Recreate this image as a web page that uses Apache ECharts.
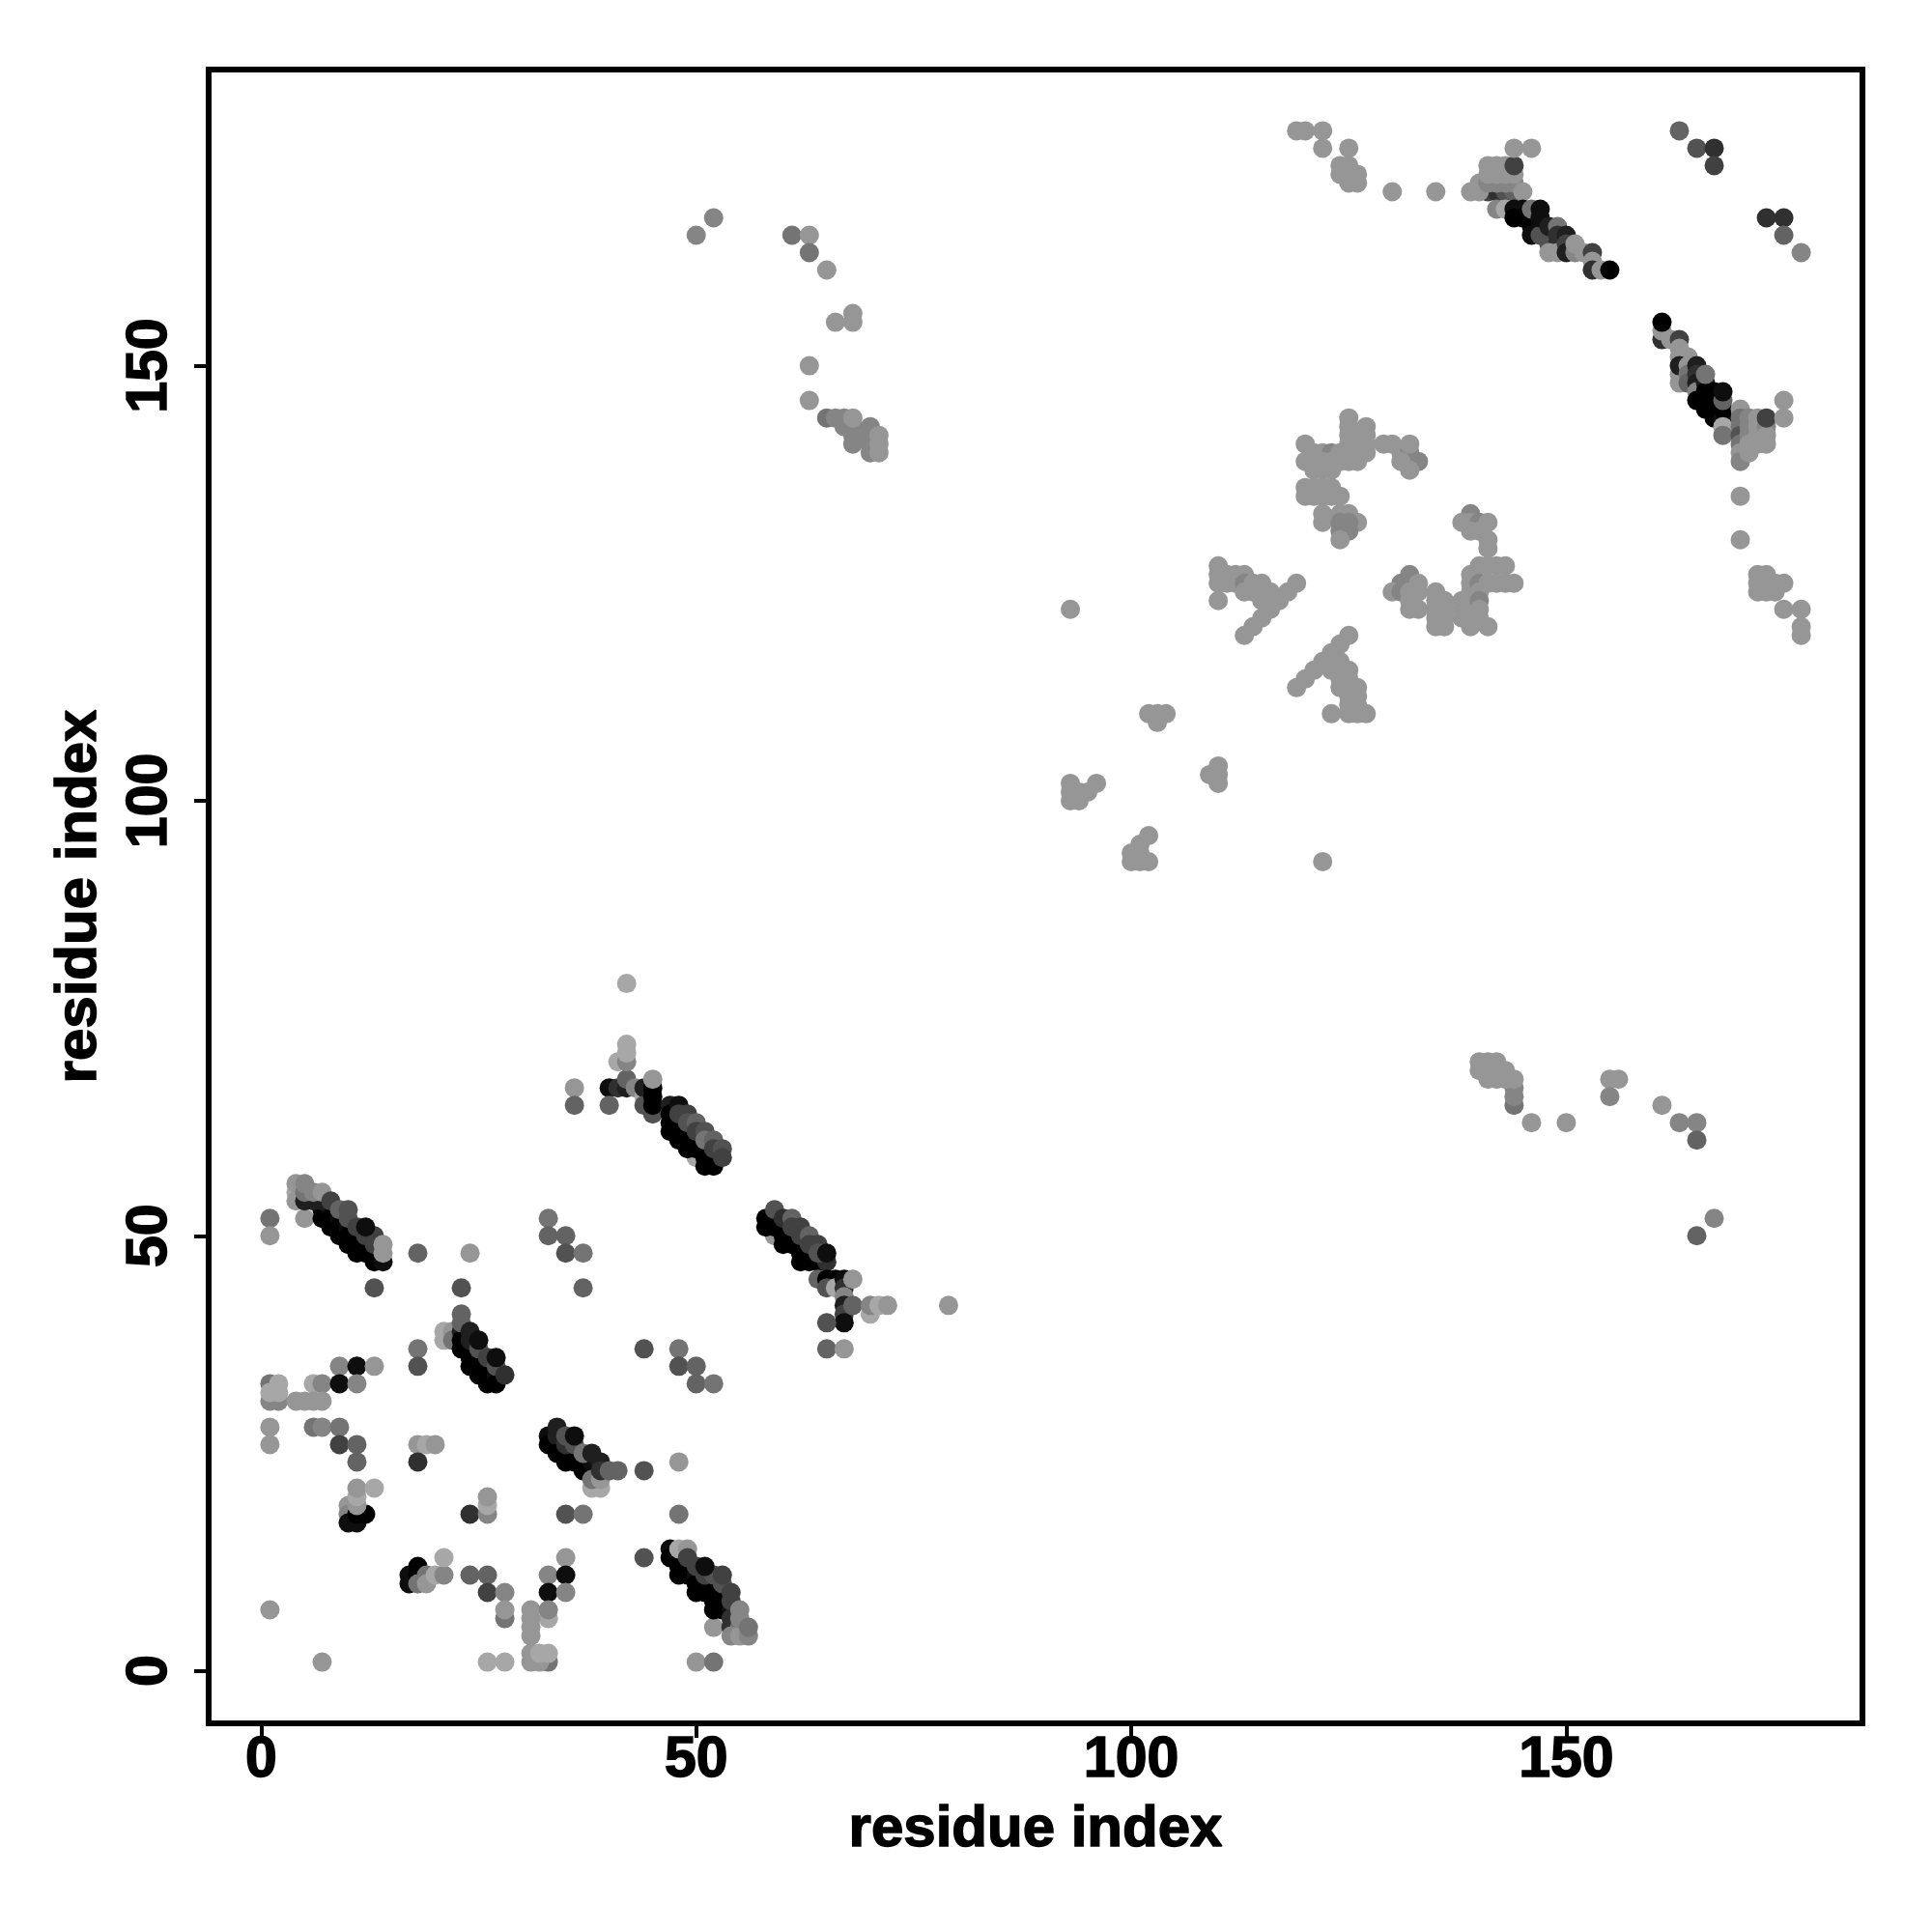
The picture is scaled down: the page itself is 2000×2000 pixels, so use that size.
<!DOCTYPE html>
<html><head><meta charset="utf-8">
<script src="https://cdn.jsdelivr.net/npm/echarts@6/dist/echarts.min.js"></script>
<style>html,body{margin:0;padding:0;background:#fff}#c{width:2000px;height:2000px}</style>
</head><body><div id="c"></div>
<script>
// each point: [residue i, residue j, strength]  (strength -1 = weakest ... 9 = strongest)
const axisTicks = [0, 50, 100, 150];
const axisName = 'residue index';
const clusterCornerLow = [[1,52,2],[1,50,0],[5,52,0],[18,48,3],[24,48,0],[13,44,4],[23,44,4],[18,37,2],[18,35,4],[9,35,1],[11,35,8],[13,35,0],
[1,33,2],[6,33,-1],[7,33,1],[9,33,8],[11,33,1],[1,31,1],[2,31,1],[1,32,-1],[2,32,-1],[2,33,-1],[4,31,0],[5,31,0],[6,31,0],[7,31,0],
[1,28,0],[6,28,2],[7,28,1],[9,28,2],[1,26,0],[9,26,5],[11,26,3],[18,26,0],[19,26,-1],[20,26,0],[11,24,3],[18,24,6],
[1,7,0],[7,1,0],[26,1,-1],[28,1,-1],[24,18,6],[26,18,1],[26,19,-1],[26,20,0],
[24,11,3],[26,11,3],[26,9,5],[28,9,1],[28,6,2],[28,7,0],[33,52,2],[33,50,3],[35,50,3],[35,48,4],[37,48,2],[37,44,3],
[44,37,4],[48,37,2],[48,35,4],[50,35,3],[50,33,3],[52,33,2],[44,23,4],[48,24,0],[35,18,4],[37,18,2],[48,18,2],[44,13,4],
[35,13,0],[33,11,1],[35,11,8],[33,9,8],[35,9,1],[31,7,0],[33,6,-1],[33,7,1],[31,6,0],[31,5,0],[31,4,0],[33,1,2],[31,1,0],[32,1,0],[31,2,0],[32,2,-1],[33,2,-1],
[52,5,0],[50,1,0],[52,1,2]];
const helixA = [[7,53,9],[7,52,9],[8,53,8],[8,52,9],[8,51,9],[9,52,8],[9,51,9],[9,50,9],[10,51,8],[10,50,9],[10,49,9],[11,50,9],[11,49,9],[11,48,9],[12,49,9],[12,48,9],[13,48,9],[13,47,9],[14,47,8],
[4,55,-1],[4,54,0],[4,56,0],[5,54,7],[6,54,7],[5,55,2],[5,56,1],[7,54,7],[6,55,1],[7,55,0],[8,54,5],[9,53,3],[10,53,4],[10,52,4],[11,51,5],[12,50,5],[13,50,5],[13,49,5],[12,51,8],[14,49,0],[14,48,0]];
const helixB = [[21,39,-1],[21,38,-1],[22,39,0],[22,38,2],[23,39,7],[23,38,9],[23,37,9],[24,37,9],[24,36,9],[24,35,9],[25,36,9],[25,35,9],[25,34,9],[26,35,9],[26,34,9],[26,33,9],[27,34,8],[27,33,9],
[23,41,3],[23,40,3],[24,39,7],[24,38,7],[25,37,4],[25,38,8],[26,36,5],[27,35,4],[27,36,8],[28,34,6]];
const helixC = [[33,27,8],[33,26,9],[34,26,9],[34,27,7],[34,25,9],[35,25,9],[35,24,9],[36,24,9],[36,25,9],[37,24,9],[37,23,9],[38,23,9],[38,24,8],[38,21,-1],[39,21,-1],[38,22,2],[39,22,0],
[34,28,7],[35,26,6],[35,27,4],[36,26,4],[36,27,8],[37,25,2],[38,25,7],[39,24,7],[39,23,6],[40,23,3],[41,23,3]];
const clusterD = [[17,11,8],[17,10,8],[18,12,9],[18,11,9],[18,10,2],[19,11,2],[19,10,0],[20,11,-1],[21,11,1],[21,13,-1],
[10,19,0],[10,18,1],[10,17,8],[11,17,8],[11,18,9],[12,18,9],[11,19,0],[11,20,-1],[11,21,0],[13,21,-1]];
const helixE = [[47,14,8],[47,13,9],[48,13,9],[48,12,9],[48,11,9],[49,12,9],[49,11,9],[50,11,8],[50,10,9],[50,9,9],[51,10,9],[51,9,9],[52,9,9],[52,8,9],[52,7,9],[53,8,9],[53,7,9],[54,7,8],
[48,14,-1],[49,14,0],[49,13,5],[50,12,5],[51,11,5],[52,11,4],[53,10,4],[53,11,5],[51,12,8],[54,9,5],[54,8,5],[54,6,6],[54,5,6],[55,5,2],[54,4,1],[55,4,0],[56,4,1],[55,6,1],[55,7,1],[56,5,2]];
const helixF = [[40,67,8],[41,67,6],[42,67,7],[40,65,3],[36,67,0],[36,65,3],[42,68,3],[41,70,-1],[42,70,1],[42,71,-1],[42,72,-1],[42,79,-1],[43,67,1],[44,66,-1],[44,67,7],[44,65,4],
[45,64,4],[45,67,9],[45,66,9],[45,65,9],[45,68,0],[50,59,-1],
[47,65,7],[47,64,9],[47,63,9],[47,62,9],[48,63,9],[48,62,9],[48,61,9],[49,62,9],[49,61,9],[49,60,9],[50,61,9],[50,60,9],[51,60,9],[51,59,9],[51,58,9],[52,59,9],[52,58,9],
[48,65,8],[48,64,5],[49,64,5],[49,63,4],[50,63,3],[50,62,5],[51,62,4],[51,61,2],[52,61,3],[52,60,5],[53,60,4],[53,59,5]];
const helixG = [[59,50,0],[58,52,9],[58,51,9],[59,52,9],[59,51,9],[60,51,9],[60,50,9],[60,49,9],[61,50,9],[61,49,9],[62,49,9],[62,48,9],[62,47,9],[63,48,9],[63,47,9],[64,47,9],[65,47,6],
[59,53,4],[60,52,6],[61,52,3],[61,51,5],[62,51,5],[62,50,5],[63,50,3],[63,49,5],[64,49,5],[64,48,4],[65,48,8]];
const helixH = [[64,45,3],[65,45,9],[66,45,9],[65,44,4],[66,44,-1],[67,45,8],[67,44,6],[67,43,1],[67,42,7],[67,41,5],[67,40,8],[68,45,0],[68,42,3],[70,41,-1],[70,42,1],[71,42,-1],[72,42,0],[79,42,0],[65,40,4],[65,37,3],[67,37,0]];
const topLeft = [[50,165,1],[52,167,1],[61,165,2],[63,165,0],[63,163,2],[65,161,0],[68,156,0],[68,155,0],[66,155,0],[63,150,0],[63,146,0],
[65,144,2],[66,144,1],[67,144,1],[67,143,1],[68,143,1],[68,142,1],[68,141,1],[68,144,0],[70,143,1],[70,142,1],[70,141,1],[70,140,1],[71,142,0],[71,141,0],[71,140,0]];
const topRightA = [[119,177,0],[120,177,0],[122,177,0],[122,175,0],[125,175,0],[124,173,0],[125,173,0],[124,172,0],[125,172,0],[126,172,0],[125,171,0],[126,171,0],[130,170,0],[135,170,0],
[141,170,5],[142,170,6],[143,170,4],[144,170,3],[139,170,0],[140,170,0],[140,171,0],[141,171,1],[142,171,1],[143,171,1],[144,171,1],[141,172,0],[142,172,0],[143,172,0],[144,172,0],[141,173,0],[142,173,0],[143,173,0],[144,173,5],[144,175,0],[146,175,0],[145,170,0]];
const helixI = [[142,168,1],[143,168,-1],[144,168,8],[145,168,8],[144,167,9],[145,167,9],[146,167,9],[146,166,9],[146,165,8],[147,166,8],[147,165,4],[148,165,4],[148,164,4],[146,168,2],[147,168,8],[147,167,8],
[148,166,7],[149,166,2],[149,165,6],[149,164,6],[150,165,7],[148,163,0],[149,163,0],[150,164,5],[150,163,7],[151,163,1],[151,164,0],[152,163,0],[153,163,5],[153,162,0],[153,161,6],[154,161,0],[155,161,9]];
const helixJ = [[161,153,6],[161,154,0],[161,155,9],[162,153,0],[163,153,5],[163,152,0],[163,151,0],[164,151,0],[163,148,0],[163,149,0],[163,150,7],[164,150,0],[164,149,2],[164,148,3],
[165,150,7],[165,149,6],[165,148,7],[165,147,1],[165,146,9],[166,148,7],[166,147,9],[166,146,9],[166,149,2],[166,145,9],[167,147,9],[167,146,9],[167,145,9],[167,144,9],[168,144,8],[168,145,9],[168,146,3],[168,147,8],[168,143,-1],[168,142,2]];
const clusterK = [[170,145,0],[170,144,2],[170,143,2],[170,142,4],[170,141,2],[170,140,0],[170,139,1],[171,144,1],[171,143,1],[171,142,1],[171,141,0],[171,140,0],[172,144,0],[172,143,0],[172,142,0],[172,141,0],[173,143,1],[173,142,0],[173,141,0],[173,144,5],[175,146,0],[175,144,0],[170,135,0],[170,130,0],
[172,126,0],[173,126,0],[172,125,0],[173,125,0],[172,124,0],[173,124,0],[174,124,0],[174,125,0],[175,125,0],[175,122,0],[177,122,0],[177,120,0],[177,119,0],
[163,177,3],[165,175,4],[167,175,6],[167,173,5],[173,167,6],[175,167,6],[175,165,3],[177,163,1]];
const lowerRight = [[161,65,0],[163,63,1],[165,63,1],[165,61,3],[165,50,3],[167,52,1],[155,68,0],[156,68,0],[155,66,1],[146,63,0],[150,63,0],
[144,65,2],[144,66,1],[144,67,1],[140,70,0],[141,70,0],[142,70,0],[140,69,0],[141,69,0],[142,69,0],[143,69,0],[141,68,0],[142,68,0],[143,68,0],[144,68,0]];
const midA = [[125,144,0],[125,143,0],[125,142,0],[125,141,0],[125,140,0],[127,143,0],[127,142,0],[127,141,0],[127,140,0],[126,139,0],[125,139,0],[120,141,0],[120,139,0],[121,140,0],[122,140,0],[123,140,1],[121,139,0],[122,139,0],[123,139,0],[124,140,0],[124,139,0],[121,138,0],[122,138,0],[123,138,0],
[129,141,0],[130,141,0],[131,140,0],[132,140,1],[133,139,1],[132,139,1],[132,141,0],[132,138,0],[131,139,0],[120,136,0],[121,136,0],[122,136,0],[123,136,0],[120,135,0],[121,135,0],[122,135,0],[123,135,0],[124,135,0],
[122,133,0],[122,132,0],[124,133,0],[125,133,0],[126,132,0],[124,132,1],[125,132,1],[124,131,1],[125,131,1],[124,130,0]];
const midB = [[110,127,0],[110,126,0],[110,125,0],[110,123,0],[111,126,0],[111,125,0],[112,126,0],[113,126,0],[112,125,0],[113,125,1],[113,124,0],[114,125,0],[115,125,0],[114,124,0],[115,124,0],[116,124,0],[115,123,0],[116,123,0],[117,123,0],
[119,125,0],[118,124,0],[116,122,0],[115,121,0],[114,120,0],[113,119,0]];
const midC = [[132,126,1],[131,125,1],[133,125,0],[130,124,0],[131,124,1],[132,124,0],[133,124,0],[132,123,0],[132,122,0],[133,122,0],
[135,124,0],[135,123,0],[135,122,0],[135,121,0],[135,120,0],[136,123,0],[136,122,0],[136,121,0],[136,120,0],[138,123,0],[138,122,0],[138,121,0],[139,126,0],[139,125,0],[139,124,0],[139,123,0],[139,122,0],[139,121,0],[139,120,0],[140,127,0],[140,125,1],[140,124,0],[140,123,1],[140,122,0],[140,121,0],[141,120,0],[141,127,0],[142,127,0],[143,127,0],[141,125,0],[142,125,0],[143,125,0],[144,125,0],
[139,133,1],[138,132,0],[139,132,0],[140,132,1],[141,132,0],[139,131,0],[140,131,0],[141,130,0],[141,129,0]];
const midD = [[125,119,0],[124,118,0],[123,117,0],[122,116,0],[121,115,0],[120,114,0],[119,113,0],[123,116,0],[124,116,0],[123,115,0],[124,115,0],[125,115,0],[124,114,0],[125,114,0],[124,113,0],[125,113,0],[126,113,0],[125,112,0],[126,112,0],[125,111,0],[126,111,0],[125,110,0],[126,110,0],[127,110,0],[123,110,0]];
const farPoints = [[93,122,0],[93,102,0],[93,101,0],[93,100,0],[94,100,0],[94,101,0],[95,101,0],[96,102,0],[100,94,0],[100,93,0],[101,94,0],[101,93,0],[102,93,0],[101,95,0],[102,96,0],[102,110,0],[103,110,0],[104,110,0],[103,109,0],[109,103,0],[110,104,0],[110,103,0],[110,102,0],[122,93,0]];

const contacts = [].concat(clusterCornerLow, helixA, helixB, helixC, clusterD, helixE, helixF, helixG, helixH, topLeft, topRightA, helixI, helixJ, clusterK, lowerRight, midA, midB, midC, midD, farPoints);

function shade(s){ const g = Math.max(0, 0x96 - 0x11 * s); return 'rgb(' + g + ',' + g + ',' + g + ')'; }
const font = 'Liberation Sans';
const labelStyle = {fontFamily: font, fontWeight: 'bold', fontSize: 59, color: '#000', textBorderColor: '#000', textBorderWidth: 1.5};
function axis(extra){
  return Object.assign({
    type: 'value', min: -6.04, max: 184.04, splitLine: {show: false},
    name: axisName, nameLocation: 'middle', nameMoveOverlap: false,
    nameTextStyle: {fontFamily: font, fontWeight: 'bold', fontSize: 60, color: '#000', textBorderColor: '#000', textBorderWidth: 1.5},
    axisLine: {show: false, onZero: false},
    axisTick: {show: true, length: 15, lineStyle: {color: '#000', width: 4}, customValues: axisTicks},
    axisLabel: Object.assign({show: true, customValues: axisTicks, margin: 9}, labelStyle)
  }, extra);
}
const chart = echarts.init(document.getElementById('c'), null, {renderer: 'canvas'});
chart.setOption({
  animation: false,
  backgroundColor: '#fff',
  grid: {show: true, left: 216, top: 72, width: 1712, height: 1712, borderColor: '#000', borderWidth: 6, backgroundColor: 'transparent'},
  xAxis: axis({nameGap: 80}),
  yAxis: axis({nameGap: 104, axisLabel: Object.assign({show: true, customValues: axisTicks, margin: 60, rotate: 90, verticalAlign: 'middle', align: 'center'}, labelStyle)}),
  series: [{
    type: 'scatter', symbol: 'circle', symbolSize: 20, progressive: 0, silent: true, z: 1,
    data: contacts,
    itemStyle: {opacity: 1, color: p => shade(p.data[2])}
  }]
});
</script></body></html>
